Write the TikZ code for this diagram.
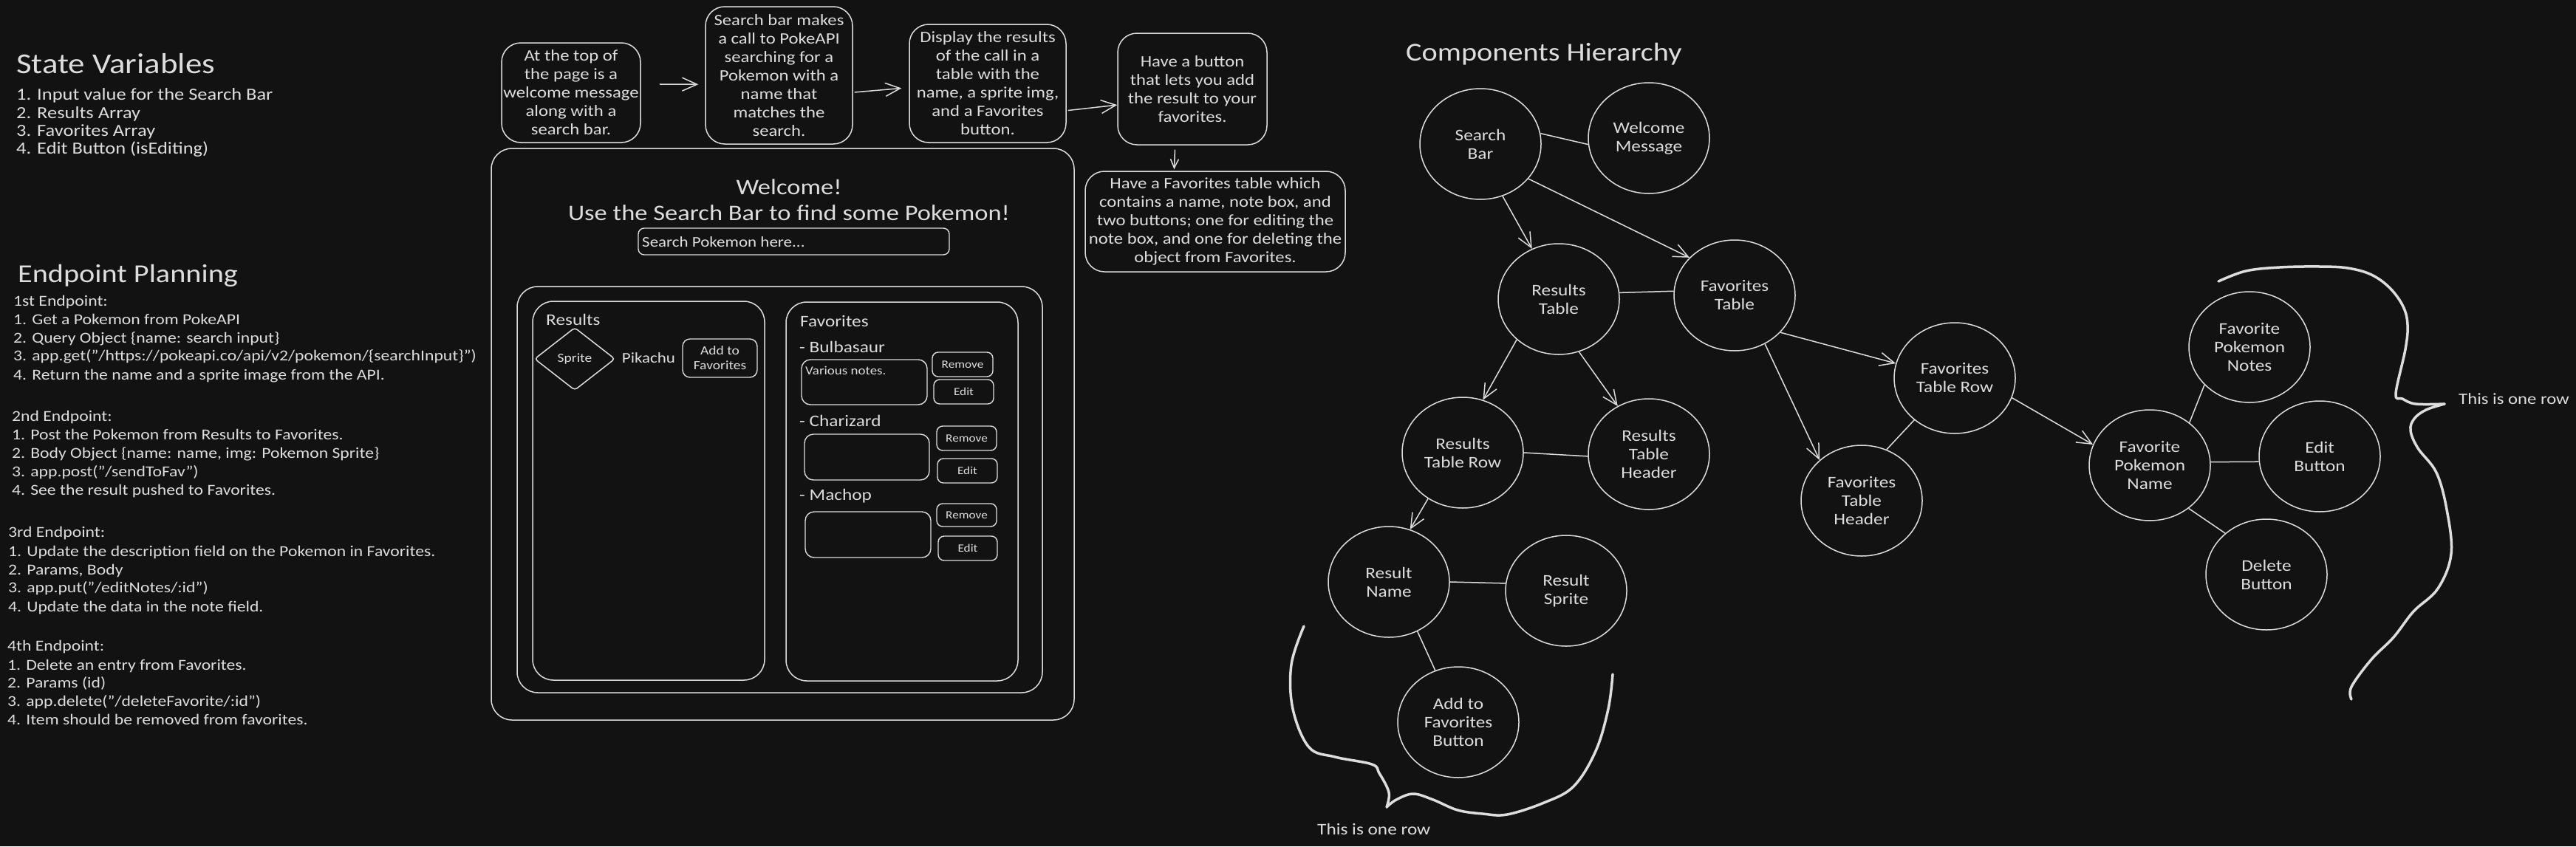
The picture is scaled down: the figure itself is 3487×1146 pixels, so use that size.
\documentclass[tikz,border=0pt]{standalone}
\usepackage{fontspec}
\setmainfont{Carlito}[FakeStretch=1.15]
\usetikzlibrary{arrows.meta,shapes.geometric}
\definecolor{bgc}{HTML}{121212}
\definecolor{ink}{HTML}{DDDDDD}
\newcommand{\fsz}[2]{\fontsize{#1}{#2}\selectfont}
\tikzset{
  line/.style={draw=ink, line width=1.5pt},
  arr/.style={line, -{Straight Barb[length=20pt,width=18pt]}},
  smallarr/.style={line, -{Straight Barb[length=12pt,width=11pt]}},
  txt/.style={text=ink, inner sep=0pt},
  body/.style={txt, anchor=base west, font=\fsz{23}{25}},
  epbody/.style={txt, anchor=base west, font=\fsz{20.6}{25}},
  title/.style={txt, anchor=base west, font=\fsz{37}{42}},
  note/.style={draw=ink, line width=1.5pt, rounded corners=26pt, align=center, text=ink, inner sep=0pt, font=\fsz{21.5}{25}},
  circ/.style={ellipse, draw=ink, line width=1.5pt, minimum width=164pt, minimum height=150pt, inner sep=0pt, align=center, text=ink, font=\fsz{22}{25}},
  btn/.style={draw=ink, line width=1.4pt, rounded corners=8pt, text=ink, align=center, inner sep=0pt, font=\fsz{15}{20}},
  panel/.style={draw=ink, line width=1.5pt, rounded corners=28pt},
  brace/.style={draw=ink, line width=3.5pt, line cap=round, line join=round},
}
\begin{document}
\begin{tikzpicture}[x=1pt,y=-1pt]
\useasboundingbox (0,0) rectangle (3487,1146);
\fill[bgc] (0,0) rectangle (3487,1146);

% ---------- State variables ----------
\node[title, font=\fsz{39}{42}] (svt) at (22,99) {State Variables};
\node[body] (sv1) at (22,135) {1. Input value for the Search Bar};
\node[body] (sv2) at (22,160) {2. Results Array};
\node[body] (sv3) at (22,184) {3. Favorites Array};
\node[body] (sv4) at (22,208) {4. Edit Button (isEditing)};

% ---------- Endpoint planning ----------
\node[title, font=\fsz{35}{42}] (ept) at (24,382) {Endpoint Planning};
\node[epbody] (e11) at (18,414) {1st Endpoint:};
\node[epbody] (e12) at (18,439) {1. Get a Pokemon from PokeAPI};
\node[epbody] (e13) at (18,464) {2. Query Object \{name: search input\}};
\node[epbody] (e14) at (18,488) {3. app.get("/https://pokeapi.co/api/v2/pokemon/\{searchInput\}")};
\node[epbody] (e15) at (18,514) {4. Return the name and a sprite image from the API.};
\node[epbody] (e21) at (16,570) {2nd Endpoint:};
\node[epbody] (e22) at (16,595) {1. Post the Pokemon from Results to Favorites.};
\node[epbody] (e23) at (16,620) {2. Body Object \{name: name, img: Pokemon Sprite\}};
\node[epbody] (e24) at (16,645) {3. app.post("/sendToFav")};
\node[epbody] (e25) at (16,670) {4. See the result pushed to Favorites.};
\node[epbody] (e31) at (11,727) {3rd Endpoint:};
\node[epbody] (e32) at (11,753) {1. Update the description field on the Pokemon in Favorites.};
\node[epbody] (e33) at (11,778) {2. Params, Body};
\node[epbody] (e34) at (11,802) {3. app.put("/editNotes/:id")};
\node[epbody] (e35) at (11,828) {4. Update the data in the note field.};
\node[epbody] (e41) at (10,881) {4th Endpoint:};
\node[epbody] (e42) at (10,907) {1. Delete an entry from Favorites.};
\node[epbody] (e43) at (10,931) {2. Params (id)};
\node[epbody] (e44) at (10,956) {3. app.delete("/deleteFavorite/:id")};
\node[epbody] (e45) at (10,981) {4. Item should be removed from favorites.};

% ---------- Top flow ----------
\node[note, minimum width=188pt, minimum height=135pt] (b1) at (773,125.5)
  {At the top of\\the page is a\\welcome message\\along with a\\search bar.};
\node[note, minimum width=199pt, minimum height=186pt] (b2) at (1054.5,102)
  {Search bar makes\\a call to PokeAPI\\searching for a\\Pokemon with a\\name that\\matches the\\search.};
\node[note, minimum width=212pt, minimum height=160pt] (b3) at (1337,113)
  {Display the results\\of the call in a\\table with the\\name, a sprite img,\\and a Favorites\\button.};
\node[note, minimum width=202pt, minimum height=151pt] (b4) at (1614,120.5)
  {Have a button\\that lets you add\\the result to your\\favorites.};
\node[note, minimum width=352pt, minimum height=136pt] (b5) at (1645,300)
  {Have a Favorites table which\\contains a name, note box, and\\two buttons; one for editing the\\note box, and one for deleting the\\object from Favorites.};
\draw[arr, shorten <=25pt, shorten >=9pt] (b1.7.6) -- (b2.187.4);
\draw[arr, shorten <=2pt, shorten >=10pt] (b2.-13.6) -- (b3.183.2);
\draw[arr, shorten <=2pt] (b3.-19.2) -- (b4.192.6);
\draw[smallarr, shorten <=6pt, shorten >=2pt] (b4.-107.6) -- (b5.129);

% ---------- Wireframe ----------
\draw[panel] (665,201) rectangle (1454,975);
\node[txt, font=\fsz{30}{36}] (wel) at (1068,253) {Welcome!};
\node[txt, font=\fsz{30}{36}] (use) at (1068,288) {Use the Search Bar to find some Pokemon!};
\node[btn, minimum width=421pt, minimum height=36pt] (sbar) at (1074.5,327) {};
\node[txt, anchor=west, font=\fsz{20}{24}] (sbt) at (869,328) {Search Pokemon here...};
\draw[panel] (700,388) rectangle (1411,938);
\draw[panel] (721,408) rectangle (1035,921);
\draw[panel] (1064,409) rectangle (1378,922);
\node[txt, anchor=west, font=\fsz{22}{26}] (rl) at (739,433) {Results};
\node[txt, anchor=west, font=\fsz{22}{26}] (fl) at (1083,435) {Favorites};
\node[diamond, draw=ink, line width=1.5pt, minimum width=109pt, minimum height=85pt, inner sep=0pt, rounded corners=4pt, text=ink, font=\fsz{17}{19}] (spr) at (778,486) {Sprite};
\node[txt, font=\fsz{20}{25}] (pika) at (878,485) {Pikachu};
\node[btn, minimum width=101pt, minimum height=52pt, rounded corners=10pt, font=\fsz{17}{20}] (addb) at (974.5,485) {Add to\\Favorites};
\node[txt, anchor=west, font=\fsz{22}{26}] (bul) at (1082,470) {- Bulbasaur};
\node[btn, minimum width=170pt, minimum height=61pt, rounded corners=12pt] (n1) at (1170,517.5) {};
\node[txt, anchor=west, font=\fsz{16.5}{19}] (n1t) at (1090,502) {Various notes.};
\node[btn, minimum width=82pt, minimum height=33pt] (r1) at (1303,493.5) {Remove};
\node[btn, minimum width=81pt, minimum height=33pt] (ed1) at (1304.5,530.5) {Edit};
\node[txt, anchor=west, font=\fsz{22}{26}] (cha) at (1082,570) {- Charizard};
\node[btn, minimum width=169pt, minimum height=62pt, rounded corners=12pt] (n2) at (1173.5,619) {};
\node[btn, minimum width=81pt, minimum height=33pt] (r2) at (1308.5,593.5) {Remove};
\node[btn, minimum width=81pt, minimum height=33pt] (ed2) at (1309.5,637.5) {Edit};
\node[txt, anchor=west, font=\fsz{22}{26}] (mac) at (1082,672) {- Machop};
\node[btn, minimum width=170pt, minimum height=62pt, rounded corners=12pt] (n3) at (1175,724) {};
\node[btn, minimum width=81pt, minimum height=31pt] (r3) at (1308.5,697.5) {Remove};
\node[btn, minimum width=80pt, minimum height=33pt] (ed3) at (1310,742.5) {Edit};

% ---------- Components hierarchy ----------
\node[title, font=\fsz{35}{42}] (cht) at (1903,82) {Components Hierarchy};
\node[circ] (sb) at (2004,195) {Search\\Bar};
\node[circ] (wm) at (2232,187) {Welcome\\Message};
\node[circ] (rt) at (2110,405) {Results\\Table};
\node[circ] (ft) at (2348,400) {Favorites\\Table};
\node[circ] (rtr) at (1980,613) {Results\\Table Row};
\node[circ] (rth) at (2232,615) {Results\\Table\\Header};
\node[circ] (rn) at (1880,788) {Result\\Name};
\node[circ] (rs) at (2120,800) {Result\\Sprite};
\node[circ] (afb) at (1974,978) {Add to\\Favorites\\Button};
\node[circ] (ftr) at (2646,512) {Favorites\\Table Row};
\node[circ] (fth) at (2520,678) {Favorites\\Table\\Header};
\node[circ] (fpn) at (2910,630) {Favorite\\Pokemon\\Name};
\node[circ] (fpnt) at (3045,470) {Favorite\\Pokemon\\Notes};
\node[circ] (eb) at (3140,618) {Edit\\Button};
\node[circ] (db) at (3068,778) {Delete\\Button};

\draw[line] (sb.10) -- (wm.186);
\draw[arr] (sb.-67) -- (rt.118);
\draw[arr] (sb.-36) -- (ft.140);
\draw[line] (rt.6) -- (ft.176);
\draw[arr] (rt.-136) -- (rtr.69);
\draw[arr] (rt.-69) -- (rth.123);
\draw[line] (rtr.0) -- (rth.182);
\draw[arr] (rtr.-127) -- (rn.68);
\draw[line] (rn.0) -- (rs.173);
\draw[line] (rn.-60) -- (afb.114);
\draw[arr] (ft.-39) -- (ftr.166);
\draw[arr] (ft.-58) -- (fth.136);
\draw[line] (ftr.-134) -- (fth.64);
\draw[arr] (ftr.-19) -- (fpn.160);
\draw[line] (fpn.47) -- (fpnt.-140);
\draw[line] (fpn.3) -- (eb.185);
\draw[line] (fpn.-48) -- (db.135);

% ---------- braces ----------
\coordinate (bt1) at (1877,1093);
\draw[brace] plot[smooth, tension=0.6] coordinates {(1765,848) (1748,900) (1750,960) (1772,1012) (1807,1025) (1857,1035) (1867,1047) (1880,1073) (bt1)};
\draw[brace] plot[smooth, tension=0.6] coordinates {(bt1) (1890,1083) (1913,1075) (1940,1083) (1973,1097) (2007,1102) (2040,1103) (2090,1087) (2130,1065) (2160,1017) (2177,960) (2183,913)};
\node[txt, anchor=base west, font=\fsz{22}{25}] (row1) at (1783,1130) {This is one row};

\coordinate (bt2) at (3309,547);
\draw[brace] plot[smooth, tension=0.6] coordinates {(3003,381) (3040,367) (3086,362) (3140,361) (3178,363) (3210,372) (3235,390) (3253,415) (3259,440) (3256,473) (3243,533) (3252,540) (3270,547) (bt2)};
\draw[brace] plot[smooth, tension=0.6] coordinates {(bt2) (3284,555) (3268,567) (3263,583) (3273,607) (3298,640) (3312,690) (3318,750) (3300,797) (3267,828) (3240,863) (3210,893) (3183,930) (3183,947)};
\node[txt, anchor=base west, font=\fsz{21.5}{24}] (row2) at (3328,547) {This is one row};
\end{tikzpicture}
\end{document}
